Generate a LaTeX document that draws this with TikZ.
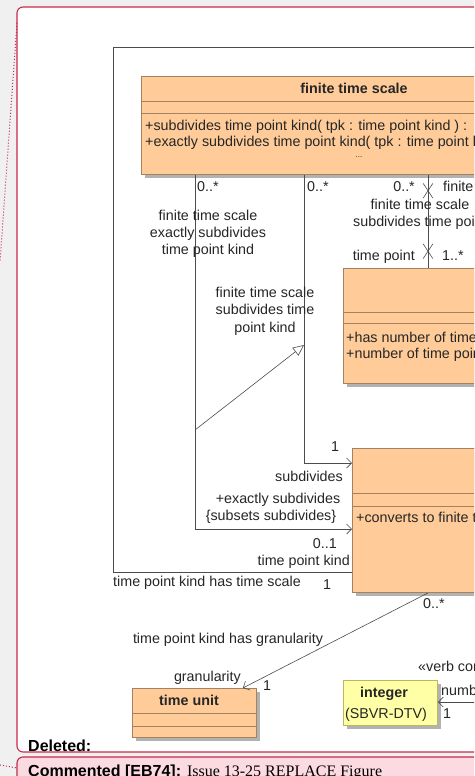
\documentclass[tikz,border=0pt]{standalone}
\usepackage{fontspec}
\setmainfont{Liberation Sans}
\newfontfamily\cmtserif{Liberation Serif}
\usetikzlibrary{calc,shadows,shapes.misc,arrows.meta}

\definecolor{clsfill}{RGB}{255,204,153}
\definecolor{clsedge}{RGB}{165,130,95}
\definecolor{dtfill}{RGB}{255,255,165}
\definecolor{dtedge}{RGB}{190,180,100}
\definecolor{cmtred}{RGB}{200,40,75}
\definecolor{cmtpink}{RGB}{252,218,225}
\definecolor{pagegray}{RGB}{240,240,240}
\newcommand{\lblfont}{\fontsize{14.3}{17.3}\selectfont}

\tikzset{
  cls/.style={draw=clsedge, fill=clsfill, line width=0.9pt, anchor=north west, inner sep=0pt,
    drop shadow={shadow xshift=4pt, shadow yshift=-4pt, fill=black!30, opacity=1}},
  dtype/.style={cls, draw=dtedge, fill=dtfill},
  part/.style={draw=clsedge, line width=0.9pt},
  assoc/.style={draw=black!70, line width=0.6pt},
  xmark/.style={cross out, draw=black!70, line width=0.6pt, minimum width=9pt, minimum height=14pt, inner sep=0pt},
  lbl/.style={font=\lblfont, inner sep=0pt, text=black!85},
  clsname/.style={lbl, font=\lblfont\bfseries, anchor=base},
}

\begin{document}
\begin{tikzpicture}[x=1pt,y=-1pt,>={Straight Barb[length=5pt,width=10pt]}]
\useasboundingbox (0,0) rectangle (474,776);
\clip (0,0) rectangle (474,776);
\fill[pagegray] (0,0) rectangle (474,776);

% review frame and comment balloon
\draw[cmtred, line width=1.1pt, fill=white, rounded corners=6pt] (17,7) rectangle (520,752);
\draw[cmtred, line width=1.1pt, fill=cmtpink, rounded corners=6pt] (17,757) rectangle (520,830);
\draw[cmtred, dotted, line width=1pt] (17,23) -- (0,262);
\draw[cmtred, dotted, line width=1pt] (0,765) -- (17,768);
\node[font=\fontsize{16}{18}\selectfont\bfseries, anchor=base west, inner sep=0pt] (deleted) at (28,751) {Deleted:};
\node[anchor=base west, inner sep=0pt] (comment) at (28,776)
  {\fontsize{16}{18}\selectfont\bfseries Commented [EB74]: \cmtserif\mdseries Issue 13-25 REPLACE Figure};

% classes
\node[cls, minimum width=426pt, minimum height=98pt] (fts) at (141,76) {};
\draw[part] ($(fts.north west)+(0,25)$) -- ($(fts.north east)+(0,25)$);
\draw[part] ($(fts.north west)+(0,37)$) -- ($(fts.north east)+(0,37)$);
\node[clsname] (ftsname) at (354,93) {finite time scale};
\node[lbl, anchor=base west] (ftsop1) at (145,130) {+subdivides time point kind( tpk : time point kind ) :};
\node[lbl, anchor=base west] (ftsop2) at (145,146) {+exactly subdivides time point kind( tpk : time point kind ) :};
\node[lbl, font=\fontsize{8}{9}\selectfont, anchor=base] (ftsmore) at (359,157) {...};

\node[cls, minimum width=200pt, minimum height=115pt] (tp) at (343,268) {};
\draw[part] ($(tp.north west)+(0,44)$) -- ($(tp.north east)+(0,44)$);
\draw[part] ($(tp.north west)+(0,55)$) -- ($(tp.north east)+(0,55)$);
\node[lbl, anchor=base west] (tpop1) at (346,342) {+has number of time points};
\node[lbl, anchor=base west] (tpop2) at (346,358) {+number of time points};

\node[cls, minimum width=200pt, minimum height=144pt] (tpk) at (352,448) {};
\draw[part] ($(tpk.north west)+(0,45)$) -- ($(tpk.north east)+(0,45)$);
\draw[part] ($(tpk.north west)+(0,58)$) -- ($(tpk.north east)+(0,58)$);
\node[lbl, anchor=base west] (tpkop) at (356,522) {+converts to finite time scale};

\node[cls, minimum width=124pt, minimum height=49pt] (tu) at (132,688) {};
\draw[part] ($(tu.north west)+(0,25)$) -- ($(tu.north east)+(0,25)$);
\draw[part] ($(tu.north west)+(0,38)$) -- ($(tu.north east)+(0,38)$);
\node[clsname] (tuname) at (189,705) {time unit};

\node[dtype, minimum width=94pt, minimum height=45pt] (int) at (343,680) {};
\node[clsname] (intname) at (384,697) {integer};
\node[lbl, anchor=base] (intpkg) at (386,718) {(SBVR-DTV)};

% associations
\coordinate (tsend) at (520,47);
\draw[assoc] ($(tpk.north west)+(0,124)$) -| (113,47) -- (tsend);
\draw[assoc,->] ($(fts.south west)+(54,0)$) |- ($(tpk.north west)+(0,81)$);
\draw[assoc,->] ($(fts.south west)+(163,0)$) |- ($(tpk.north west)+(0,15)$);
\draw[assoc] ($(fts.south west)+(287,0)$) -- node[xmark, pos=0.17] (xa) {}
  node[xmark, pos=0.82] (xb) {} ($(tp.north west)+(85,0)$);
\coordinate (genfrom) at (195,430);
\coordinate (gento) at (304,345);
\draw[assoc, -{Triangle[open,length=11pt,width=10pt]}] (genfrom) -- (gento);
\draw[assoc,->] ($(tpk.south west)+(76,0)$) -- ($(tu.north east)+(-14,0)$);
\coordinate (numfrom) at (520,702);
\draw[assoc,->] (numfrom) -- ($(int.north east)+(0,22)$);

% association labels
\node[lbl, anchor=base west] (m1) at (197,191) {0..*};
\node[lbl, align=center] (exname) at (208,234) {finite time scale\\exactly subdivides\\time point kind};
\node[lbl, align=center] (subname) at (265,311) {finite time scale\\subdivides time\\point kind};
\node[lbl, anchor=base west] (m2) at (307,191) {0..*};
\node[lbl, anchor=base east] (m3) at (415,191) {0..*};
\node[lbl, anchor=base west] (r3) at (443,191) {finite time scale};
\node[lbl, align=center] (tpname) at (420,214) {finite time scale\\subdivides time point};
\node[lbl, anchor=base east] (r4) at (415,260) {time point};
\node[lbl, anchor=base west] (m4) at (442,260) {1..*};
\node[lbl, anchor=base] (m5) at (335,451) {1};
\node[lbl, anchor=base east] (r5) at (343,481) {subdivides};
\node[lbl, anchor=base] (r6) at (278,503) {+exactly subdivides};
\node[lbl, anchor=base] (r6c) at (271,520) {\{subsets subdivides\}};
\node[lbl, anchor=base east] (m6) at (337,548) {0..1};
\node[lbl, anchor=base east] (r7) at (350,565) {time point kind};
\node[lbl, anchor=base west] (tsname) at (113,586) {time point kind has time scale};
\node[lbl, anchor=base] (m7) at (327,589) {1};
\node[lbl, anchor=base west] (m8) at (423,608) {0..*};
\node[lbl, anchor=base] (grname) at (228,643) {time point kind has granularity};
\node[lbl, anchor=base east] (r8) at (241,681) {granularity};
\node[lbl, anchor=base] (m9) at (267,690) {1};
\node[lbl, anchor=base west] (verb) at (418,671) {«verb concept»};
\node[lbl, anchor=base west] (r9) at (441,695) {number};
\node[lbl, anchor=base west] (m10) at (443,718) {1};
\end{tikzpicture}
\end{document}
